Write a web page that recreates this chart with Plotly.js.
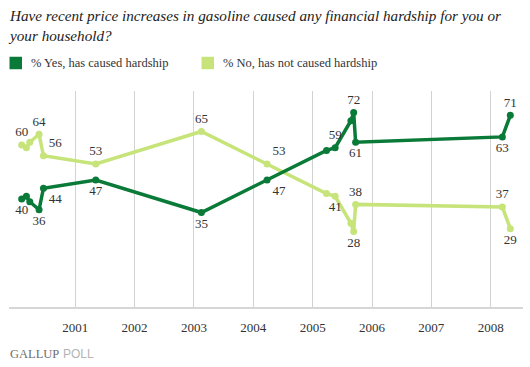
<!DOCTYPE html>
<html>
<head>
<meta charset="utf-8">
<script src="https://cdn.plot.ly/plotly-3.0.1.min.js"></script>
<style>html,body{margin:0;padding:0;background:#fff;}</style>
</head>
<body>
<div id="chart" style="width:530px;height:367px;"></div>
<script>
// ---- data ----
var surveyDates = ['2000-02-06','2000-03-06','2000-03-27','2000-05-23','2000-06-19',
  '2001-05-07','2003-02-16','2004-03-26','2005-03-27','2005-05-19',
  '2005-08-24','2005-09-10','2005-09-22','2008-03-13','2008-05-01'];
var yesValues = [40,41,39,36,44,47,35,47,58,59,69,72,61,63,71];
var noValues  = [60,59,61,64,56,53,65,53,42,41,31,28,38,37,29];
var yesLabels = ['40','','','36','44','47','35','47','','59','','72','61','63','71'];
var noLabels  = ['60','','','64','56','53','65','53','','41','','28','38','37','29'];
var yearTicks = ['2001-01-01','2002-01-01','2003-01-01','2004-01-01','2005-01-01','2006-01-01','2007-01-01','2008-01-01'];
var yearLabels = ['2001','2002','2003','2004','2005','2006','2007','2008'];
var seriesNames = ['% Yes, has caused hardship','% No, has not caused hardship'];

// ---- styles ----
var darkGreen = '#0a7a38';
var lightGreen = '#c6e47a';
var seriesColors = [darkGreen, lightGreen];
var yesTextPos = ['bottom center','','','bottom center','bottom right','bottom center','bottom center','bottom right','','top center','','top center','bottom center','bottom center','top center'];
var noTextPos  = ['top center','','','top center','top right','top center','top center','top right','','bottom center','','bottom center','top center','top center','bottom center'];
var serif = 'Liberation Serif, Times New Roman, serif';
var labelFont = {family: serif, size: 13, color: '#333333'};

// plot area geometry (px) used to place the legend / footer in paper units
var M = {l:9, r:7, t:91, b:60}, W = 530, H = 367;
var PW = W - M.l - M.r, PH = H - M.t - M.b;
function px2x(px){ return (px - M.l) / PW; }
function px2y(py){ return (H - M.b - py) / PH; }

var data = [
  {x: surveyDates, y: noValues, type:'scatter', mode:'lines+markers+text', name: seriesNames[1],
   line:{color: lightGreen, width:3.5}, marker:{color: lightGreen, size:7},
   text: noLabels, textposition: noTextPos, textfont: labelFont, cliponaxis:false},
  {x: surveyDates, y: yesValues, type:'scatter', mode:'lines+markers+text', name: seriesNames[0],
   line:{color: darkGreen, width:3.5}, marker:{color: darkGreen, size:7},
   text: yesLabels, textposition: yesTextPos, textfont: labelFont, cliponaxis:false}
];

// custom legend (square swatch + label)
var legendX = [9.5, 201.5];
var legendY = 63;
var shapes = [], annotations = [];
for (var i = 0; i < seriesNames.length; i++) {
  shapes.push({type:'rect', xref:'paper', yref:'paper',
    x0: px2x(legendX[i]), x1: px2x(legendX[i] + 12.5),
    y0: px2y(legendY + 6.25), y1: px2y(legendY - 6.25), fillcolor: seriesColors[i], line:{width:0}});
  annotations.push({text: seriesNames[i], xref:'paper', yref:'paper',
    x: px2x(legendX[i] + 19.5), xanchor:'left', y: px2y(legendY), yanchor:'middle',
    showarrow:false, font:{family: serif, size:12.5, color:'#333333'}});
}
annotations.push({text:'GALLUP', xref:'paper', yref:'paper', x: px2x(8), xanchor:'left',
  y: px2y(354), yanchor:'middle', showarrow:false, font:{family: serif, size:12.5, color:'#6e6e6e'}});
annotations.push({text:'POLL', xref:'paper', yref:'paper', x: px2x(61), xanchor:'left',
  y: px2y(354), yanchor:'middle', showarrow:false, font:{family:'Liberation Sans, Arial, sans-serif', size:12, color:'#b4b4b4'}});

var layout = {
  width: W, height: H,
  margin: M,
  paper_bgcolor:'#ffffff', plot_bgcolor:'#ffffff',
  showlegend:false,
  title:{
    text:'Have recent price increases in gasoline caused any financial hardship for you or<br>your household?',
    font:{family: serif, size:15.2, style:'italic', color:'#222222'},
    x: 10/530, xref:'container', xanchor:'left',
    y: 1 - 21/367, yref:'container', yanchor:'top'
  },
  xaxis:{
    type:'date', range:['1999-11-20','2008-07-18'],
    tickmode:'array', tickvals: yearTicks, ticktext: yearLabels,
    showgrid:true, gridcolor:'#d2d2d2', gridwidth:1,
    showline:true, linecolor:'#d6d6d6', linewidth:2,
    ticks:'outside', ticklen:7, tickcolor:'rgba(0,0,0,0)',
    tickfont:{family: serif, size:13, color:'#333333'},
    zeroline:false, fixedrange:true
  },
  yaxis:{range:[0,80], visible:false, showgrid:false, zeroline:false, fixedrange:true},
  shapes: shapes,
  annotations: annotations
};

Plotly.newPlot('chart', data, layout, {displayModeBar:false, staticPlot:true});
</script>
</body>
</html>
